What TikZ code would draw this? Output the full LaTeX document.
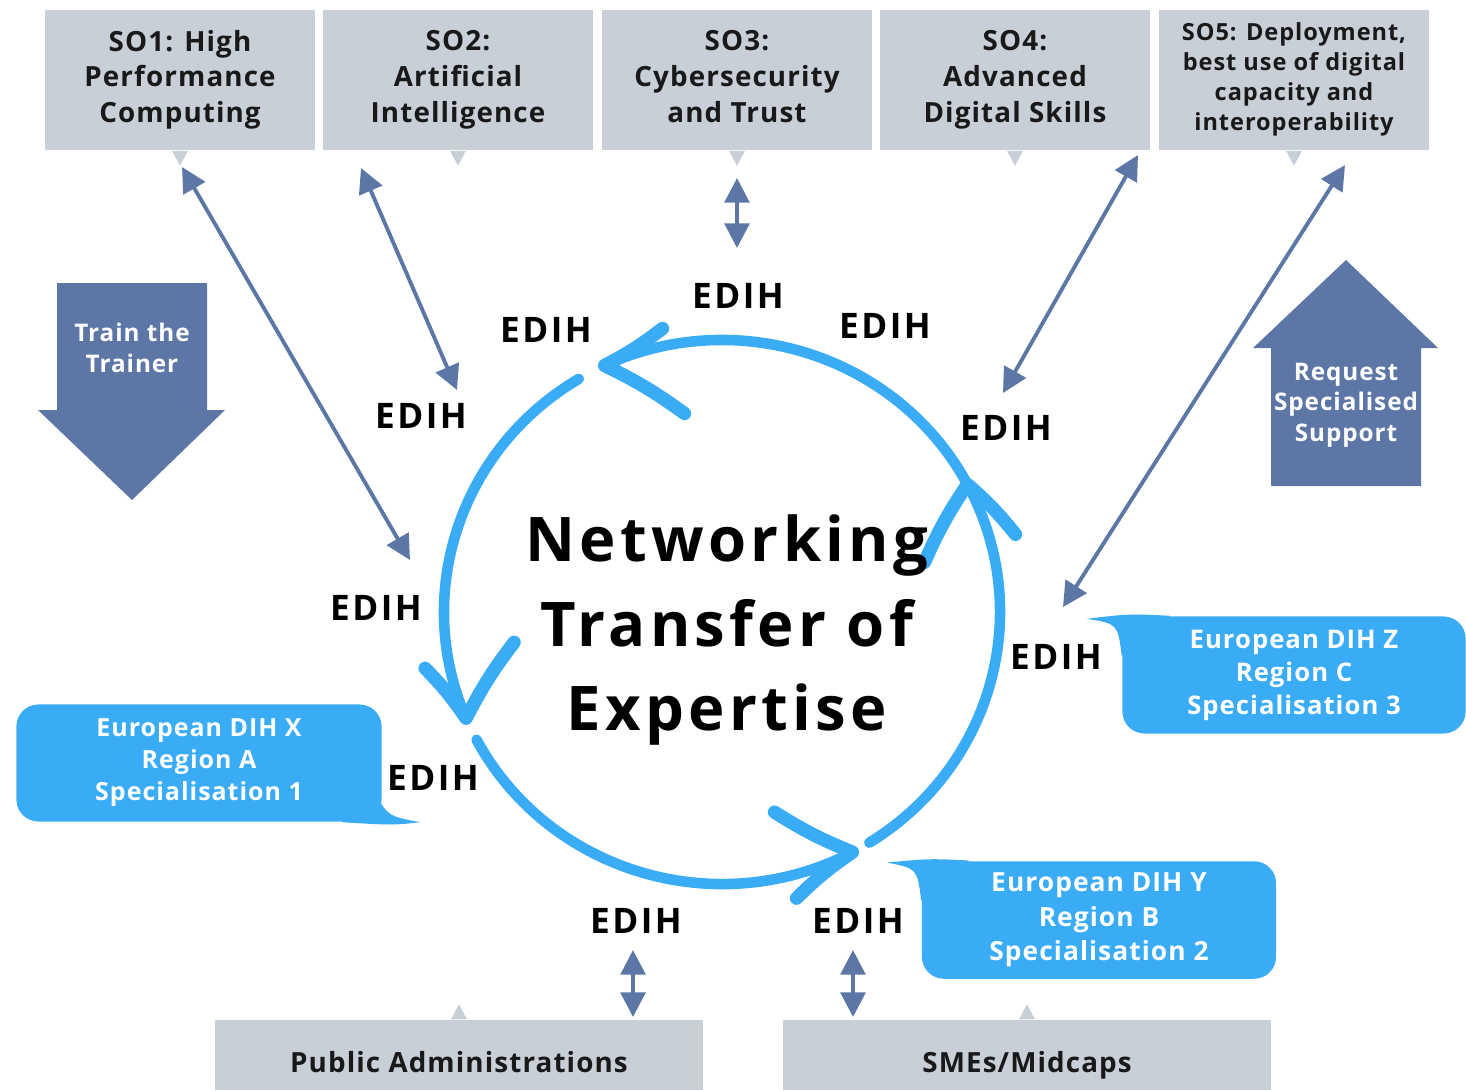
\documentclass[tikz,border=0pt]{standalone}
\usepackage{fontspec}
\setmainfont{Open Sans}
\newfontfamily\trackfont[LetterSpace=4]{Open Sans}
\newfontfamily\edihfont[LetterSpace=7]{Open Sans}
\newfontfamily\bigfont[LetterSpace=7]{Open Sans}
\usetikzlibrary{arrows.meta,calc}
\definecolor{BoxGray}{RGB}{201,207,215}
\definecolor{DarkArr}{RGB}{92,118,166}
\definecolor{CycBlue}{RGB}{58,171,245}
\definecolor{TxtDark}{RGB}{25,25,25}

\begin{document}
\begin{tikzpicture}[x=0.01cm,y=-0.01cm,
  sobox/.style={fill=BoxGray,minimum width=27mm,minimum height=14mm,inner sep=1pt,text depth=2.1pt,align=center,text=TxtDark,
    font=\trackfont\bfseries\fontsize{7.9}{10.2}\selectfont},
  grpbox/.style={fill=BoxGray,minimum width=48.8mm,minimum height=7mm,text height=10pt,text depth=0pt,text=TxtDark,
    font=\trackfont\bfseries\fontsize{7.9}{9}\selectfont},
  edih/.style={text=black,inner sep=1pt,font=\edihfont\bfseries\fontsize{10}{12}\selectfont},
  dihbox/.style={fill=CycBlue,rounded corners=2.2mm,minimum height=11.7mm,align=center,text=white,
    font=\trackfont\bfseries\fontsize{7.1}{9.1}\selectfont},
  bigtxt/.style={text=white,align=center,font=\trackfont\bfseries\fontsize{6.9}{8.7}\selectfont},
  darr/.style={DarkArr,line width=1.1pt,{Triangle[length=7pt,width=7pt]}-{Triangle[length=7pt,width=7pt]}},
  cyc/.style={CycBlue,line width=3pt,line cap=round},
  chev/.style={CycBlue,line width=3.8pt,line cap=round,line join=round}]
\useasboundingbox (0,0) rectangle (1466,1090);

% objectives on top
\node[sobox] (so1) at (180,80) {SO1: High\\Performance\\Computing};
\node[sobox] (so2) at (458,80) {SO2:\\Artificial\\Intelligence};
\node[sobox] (so3) at (737,80) {SO3:\\Cybersecurity\\and Trust};
\node[sobox] (so4) at (1015,80) {SO4:\\Advanced\\Digital Skills};
\node[sobox,font=\trackfont\bfseries\fontsize{6.7}{8.5}\selectfont] (so5) at (1294,80)
  {SO5: Deployment,\\best use of digital\\capacity and\\interoperability};
\foreach \b in {so1,so2,so3,so4,so5}
  \fill[BoxGray] ($(\b.south)+(-8,0)$) -- ($(\b.south)+(8,0)$) -- ($(\b.south)+(0,15)$) -- cycle;

% target groups
\node[grpbox] (pa) at (459,1055) {Public Administrations};
\node[grpbox] (sme) at (1027,1055) {SMEs/Midcaps};
\foreach \b in {pa,sme}
  \fill[BoxGray] ($(\b.north)+(-8,0)$) -- ($(\b.north)+(8,0)$) -- ($(\b.north)+(0,-15)$) -- cycle;

% big arrows
\fill[DarkArr] (57,283) -- (207,283) -- (207,410) -- (225,410) -- (132,500) -- (38,410) -- (57,410) -- cycle;
\node[bigtxt] (train) at (132,348) {Train the\\Trainer};
\fill[DarkArr] (1346,260) -- (1438,348) -- (1421,348) -- (1421,486) -- (1271,486) -- (1271,348) -- (1253,348) -- cycle;
\node[bigtxt] (req) at (1346,405) {Request\\Specialised\\Support};

% the cycle
\coordinate (cen) at (722,612);
\coordinate (t1) at ($(cen)+(-115:278 and 272)$);
\coordinate (t2) at ($(cen)+(-203:278 and 272)$);
\coordinate (t3) at ($(cen)+(-298:278 and 272)$);
\coordinate (t4) at ($(cen)+(-388:278 and 272)$);
\draw[cyc] (cen) ++(-29:278 and 272) arc[start angle=-29,end angle=-115,x radius=278,y radius=272];
\draw[cyc] (cen) ++(-121:278 and 272) arc[start angle=-121,end angle=-203,x radius=278,y radius=272];
\draw[cyc] (cen) ++(-208:278 and 272) arc[start angle=-208,end angle=-298,x radius=278,y radius=272];
\draw[cyc] (cen) ++(-302:278 and 272) arc[start angle=-302,end angle=-388,x radius=278,y radius=272];
\draw[chev] ($(t1)+(58,-37)$) to[bend left=5] (t1) to[bend left=5] ($(t1)+(80,48)$);
\draw[chev] ($(t2)+(-41,-50)$) to[bend left=5] (t2) to[bend left=5] ($(t2)+(48,-76)$);
\draw[chev] ($(t3)+(-78,-40)$) to[bend right=5] (t3) to[bend right=5] ($(t3)+(-56,46)$);
\draw[chev] ($(t4)+(-43,78)$) to[bend left=5] (t4) to[bend left=5] ($(t4)+(48,50)$);
\node[align=center,text=black,font=\bigfont\bfseries\fontsize{17.5}{24}\selectfont] (mid) at (727,630)
  {Networking\\Transfer of\\Expertise};

% hubs
\node[edih] (e1) at (738,296) {EDIH};
\node[edih] (e2) at (546,330) {EDIH};
\node[edih] (e3) at (885,326) {EDIH};
\node[edih] (e4) at (421,416) {EDIH};
\node[edih] (e5) at (1006,428) {EDIH};
\node[edih] (e6) at (376,608) {EDIH};
\node[edih] (e7) at (1056,657) {EDIH};
\node[edih] (e8) at (433,778) {EDIH};
\node[edih] (e9) at (636,921) {EDIH};
\node[edih] (e10) at (858,921) {EDIH};

% links objectives / groups <-> hubs
\coordinate (a1s) at (182,167); \coordinate (a1e) at (410,560);
\coordinate (a2s) at (361,168); \coordinate (a2e) at (457,390);
\coordinate (a3s) at (737,178); \coordinate (a3e) at (737,248);
\coordinate (a4s) at (1138,155); \coordinate (a4e) at (1003,393);
\coordinate (a5s) at (1345,165); \coordinate (a5e) at (1063,607);
\coordinate (a6s) at (633,950); \coordinate (a6e) at (633,1017);
\coordinate (a7s) at (853,950); \coordinate (a7e) at (853,1017);
\foreach \i in {1,...,7}
  \draw[darr] (a\i s) -- (a\i e);

% european hubs
\node[dihbox,minimum width=36.5mm] (dihx) at (199,763) {European DIH X\\Region A\\Specialisation 1};
\fill[CycBlue] ($(dihx.south east)+(-8,-30)$) .. controls ($(dihx.south east)+(6,-6)$) .. ($(dihx.south east)+(38,0)$)
  .. controls ($(dihx.south east)+(10,3)$) .. ($(dihx.south east)+(-40,0)$) -- ($(dihx.south east)+(-25,-25)$) -- cycle;
\node[dihbox,minimum width=35.4mm,font=\trackfont\bfseries\fontsize{7.5}{9.8}\selectfont] (dihy) at (1099,920) {European DIH Y\\Region B\\Specialisation 2};
\fill[CycBlue] ($(dihy.north west)+(48,0)$) .. controls ($(dihy.north west)+(8,-2)$) .. ($(dihy.north west)+(-34,2)$)
  .. controls ($(dihy.north west)+(-4,8)$) .. ($(dihy.north west)+(0,40)$) -- ($(dihy.north west)+(25,25)$) -- cycle;
\node[dihbox,minimum width=34.3mm,font=\trackfont\bfseries\fontsize{7.3}{9.4}\selectfont] (dihz) at (1294,675) {European DIH Z\\Region C\\Specialisation 3};
\fill[CycBlue] ($(dihz.north west)+(48,0)$) .. controls ($(dihz.north west)+(8,-2)$) .. ($(dihz.north west)+(-35,3)$)
  .. controls ($(dihz.north west)+(-4,8)$) .. ($(dihz.north west)+(0,40)$) -- ($(dihz.north west)+(25,25)$) -- cycle;
\end{tikzpicture}
\end{document}
